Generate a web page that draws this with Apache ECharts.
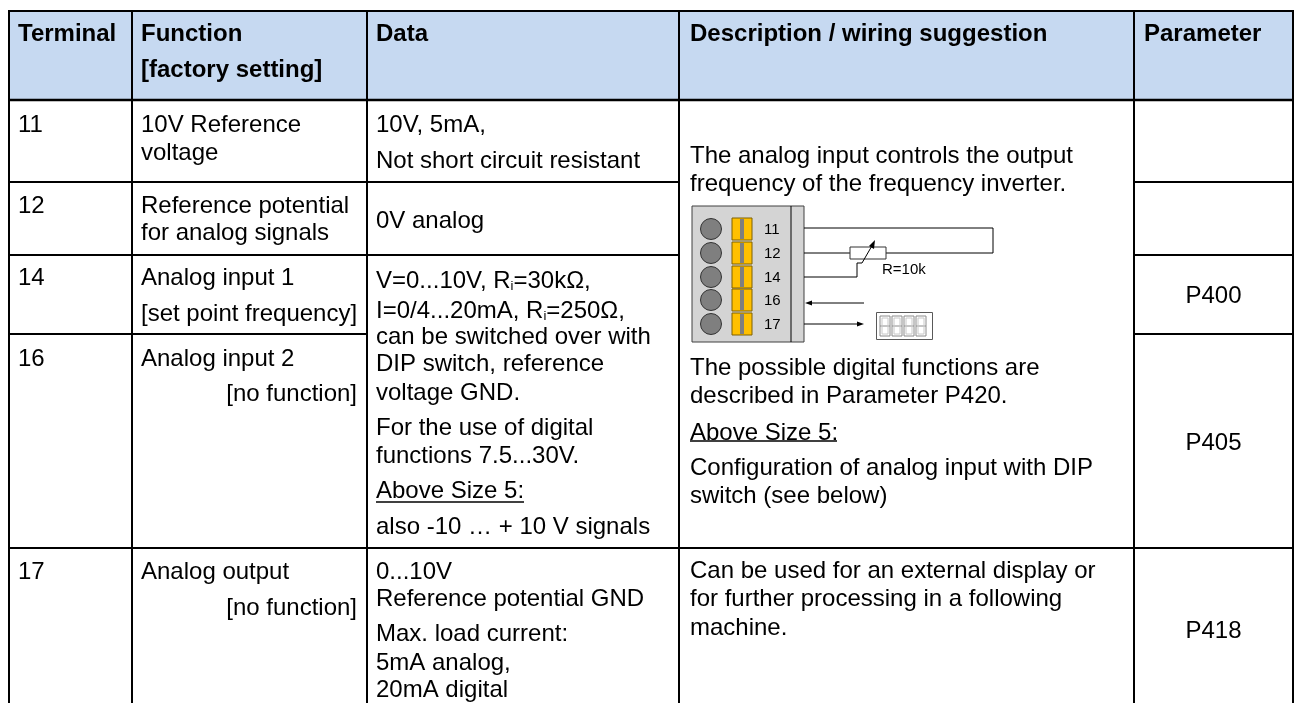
<!DOCTYPE html>
<html>
<head>
<meta charset="utf-8">
<style>html,body{margin:0;padding:0;background:#fff}#main{width:1295px;height:703px}</style>
<script src="https://cdn.jsdelivr.net/npm/echarts@6/dist/echarts.min.js"></script>
</head>
<body>
<div id="main"></div>
<script>
// table text
const headers = [['Terminal'], ['Function', '[factory setting]'], ['Data'], ['Description / wiring suggestion'], ['Parameter']];
const terminals = ['11', '12', '14', '16', '17'];
const functionLines = ['10V Reference', 'voltage', 'Reference potential', 'for analog signals', 'Analog input 1', '[set point frequency]', 'Analog input 2', '[no function]', 'Analog output', '[no function]'];
const dataLines = ['10V, 5mA,', 'Not short circuit resistant', '0V analog', 'V=0...10V, R{sub|i}=30kΩ,', 'I=0/4...20mA, R{sub|i}=250Ω,', 'can be switched over with', 'DIP switch, reference', 'voltage GND.', 'For the use of digital', 'functions 7.5...30V.', 'Above Size 5:', 'also -10 … + 10 V signals', '0...10V', 'Reference potential GND', 'Max. load current:', '5mA analog,', '20mA digital'];
const descLines = ['The analog input controls the output', 'frequency of the frequency inverter.', 'The possible digital functions are', 'described in Parameter P420.', 'Above Size 5:', 'Configuration of analog input with DIP', 'switch (see below)', 'Can be used for an external display or', 'for further processing in a following', 'machine.'];
const parameters = ['P400', 'P405', 'P418'];
const diagramTerminals = ['11', '12', '14', '16', '17'];
const resistorLabel = 'R=10k';

// layout, in page pixels
const colX = [9, 132, 367, 679, 1134, 1293];
const rowY = [11, 100, 182, 255, 334, 548, 703];
const headerX = [18, 141, 376, 690, 1144];
const headerY = [33, 69];
const terminalY = [124, 205, 277, 358, 571];
const functionY = [124, 152, 205, 232, 277, 313, 358, 393, 571, 607];
const dataY = [124, 160, 220, 280, 310, 336, 363, 392, 427, 455, 490, 526, 571, 598, 633, 662, 689];
const descY = [155, 183, 367, 395, 432, 467, 495, 570, 598, 627];
const parameterY = [295, 442, 630];
const fontFamily = '"Liberation Sans", Arial, sans-serif';
const fontSize = 24;

const g = [];

function rect(x, y, w, h, fill, stroke, lw) {
  g.push({ type: 'rect', silent: true, shape: { x, y, width: w, height: h }, style: { fill: fill || 'transparent', stroke: stroke || null, lineWidth: lw || 0 } });
}
function line(x1, y1, x2, y2, lw, color) {
  g.push({ type: 'line', silent: true, shape: { x1, y1, x2, y2 }, style: { stroke: color || '#000', lineWidth: lw || 2 } });
}
function poly(points, lw, color) {
  g.push({ type: 'polyline', silent: true, shape: { points }, style: { fill: null, stroke: color || '#000', lineWidth: lw || 1 } });
}
function arrowHead(points) {
  g.push({ type: 'polygon', silent: true, shape: { points }, style: { fill: '#000' } });
}
function text(str, x, y, o) {
  o = o || {};
  const size = o.size || fontSize;
  // +1: middle alignment sits a pixel above the capital centre
  g.push({
    type: 'text', silent: true, x, y: y + 1,
    style: {
      text: str, fill: '#000', fontFamily, fontSize: size, fontWeight: o.bold ? 'bold' : 'normal',
      align: o.align || 'left', verticalAlign: 'middle',
      rich: { sub: { fontSize: 13, fontFamily, verticalAlign: 'bottom', padding: [8, 0, 0, 0] } }
    }
  });
}

// header band
rect(colX[0], rowY[0], colX[5] - colX[0], rowY[1] - rowY[0], '#C6D9F1');

// header text
headers.forEach((lines, c) => lines.forEach((s, i) => text(s, headerX[c], headerY[i], { bold: true })));

// terminal numbers
terminals.forEach((s, i) => text(s, headerX[0], terminalY[i]));

// function column, the [..] setting lines of 16 and 17 sit on the right
functionLines.forEach((s, i) => {
  if (s === '[no function]') text(s, 357, functionY[i], { align: 'right' });
  else text(s, headerX[1], functionY[i]);
});

dataLines.forEach((s, i) => text(s, headerX[2], dataY[i]));
descLines.forEach((s, i) => text(s, headerX[3], descY[i]));
parameters.forEach((s, i) => text(s, (colX[4] + colX[5]) / 2, parameterY[i], { align: 'center' }));

// underlined "Above Size 5:"
line(headerX[2], 502, headerX[2] + 148, 502, 1.5);
line(headerX[3], 441, headerX[3] + 147, 441, 1.5);

// grid lines
colX.forEach(x => line(x, rowY[0] - 1, x, rowY[6], 2));
line(colX[0] - 1, rowY[0], colX[5] + 1, rowY[0], 2);
line(colX[0] - 1, rowY[1], colX[5] + 1, rowY[1], 2.5);
line(colX[0], rowY[2], colX[3], rowY[2], 2);
line(colX[4], rowY[2], colX[5], rowY[2], 2);
line(colX[0], rowY[3], colX[3], rowY[3], 2);
line(colX[4], rowY[3], colX[5], rowY[3], 2);
line(colX[0], rowY[4], colX[2], rowY[4], 2);
line(colX[4], rowY[4], colX[5], rowY[4], 2);
line(colX[0], rowY[5], colX[5], rowY[5], 2);

// terminal block
const slotY = [229, 253, 277, 300, 324];
rect(692, 206, 112, 136, '#D4D4D4', '#404040', 1);
line(791, 206, 791, 342, 1, '#000');
diagramTerminals.forEach((s, i) => {
  g.push({ type: 'circle', silent: true, shape: { cx: 711, cy: slotY[i], r: 10.5 }, style: { fill: '#7F7F7F', stroke: '#333', lineWidth: 1 } });
  rect(732, slotY[i] - 11, 20, 22, '#FFC000', '#7F6000', 1);
  rect(740, slotY[i] - 10, 4, 20, '#7F7F7F');
  text(s, 764, slotY[i], { size: 15 });
});

// potentiometer wiring
poly([[804, 228], [993, 228], [993, 253], [886, 253]], 1);
line(804, 253, 850, 253, 1);
rect(850, 247, 36, 12, '#fff', '#333', 1);
poly([[804, 277], [857, 277], [857, 263], [862, 263], [873, 244]], 1);
arrowHead([[875, 240], [869, 246], [874, 249]]);
text(resistorLabel, 882, 269, { size: 15 });

// terminal 16 in, terminal 17 out
line(810, 303, 864, 303, 1);
arrowHead([[805, 303], [812, 300.5], [812, 305.5]]);
line(804, 324, 858, 324, 1);
arrowHead([[864, 324], [857, 321.5], [857, 326.5]]);

// four digit display
rect(876.5, 312.5, 56, 27, '#fff', '#595959', 1);
[880, 892, 904, 916].forEach(x => {
  poly([[x, 316], [x + 10, 316], [x + 10, 336], [x, 336], [x, 316]], 1, '#8C8C8C');
  line(x, 326, x + 10, 326, 1, '#8C8C8C');
  poly([[x + 2, 318], [x + 8, 318], [x + 8, 334], [x + 2, 334], [x + 2, 318]], 1, '#C8C8C8');
});

const chart = echarts.init(document.getElementById('main'), null, { renderer: 'canvas', width: 1295, height: 703 });
chart.setOption({ animation: false, backgroundColor: '#fff', graphic: { elements: g } });
</script>
</body>
</html>
